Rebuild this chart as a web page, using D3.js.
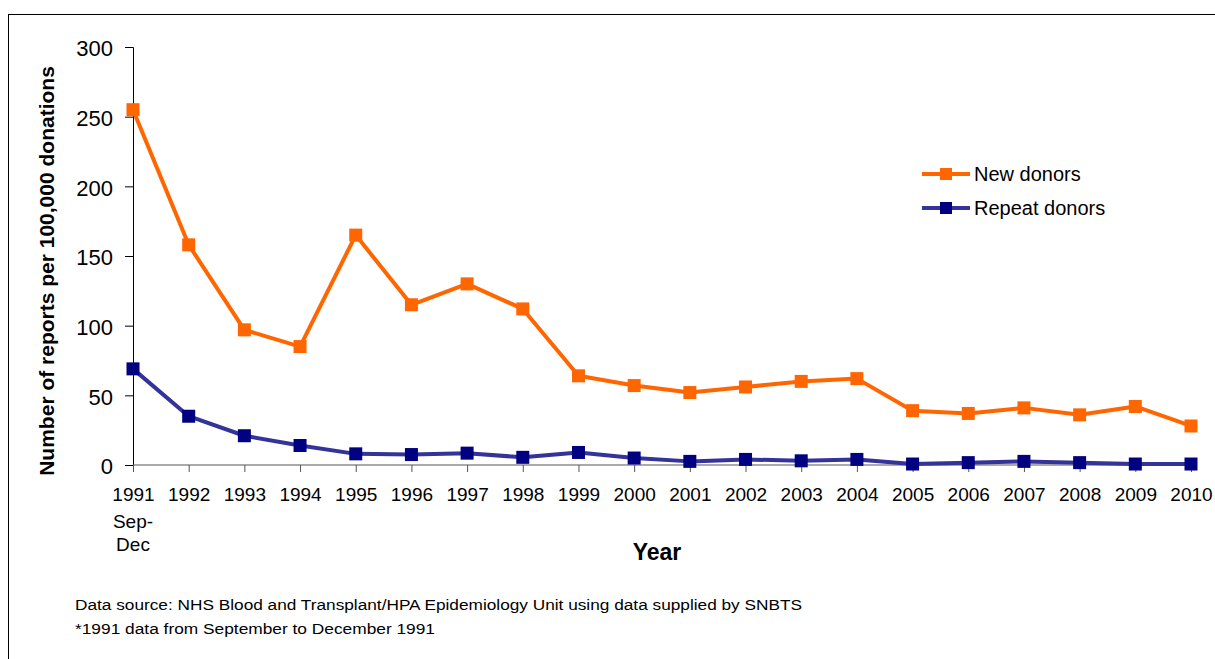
<!DOCTYPE html>
<html><head><meta charset="utf-8">
<script src="https://cdnjs.cloudflare.com/ajax/libs/d3/7.8.5/d3.min.js"></script>
<style>body{margin:0;background:#fff}svg{display:block}text{font-family:"Liberation Sans",Arial,sans-serif}</style>
</head><body>
<script>
const years = ["1991","1992","1993","1994","1995","1996","1997","1998","1999","2000","2001","2002","2003","2004","2005","2006","2007","2008","2009","2010"];
const newDonors = [255,158,97,85,165,115,130,112,64,57,52,56,60,62,39,37,41,36,42,28];
const repeatDonors = [69,35,21,14,8,7.5,8.5,5.5,9,5,2.6,4,3,4,0.7,1.7,2.6,1.7,0.7,0.7];
const yTicks = [0,50,100,150,200,250,300];
const seriesNames = ["New donors","Repeat donors"];

const W=1215,H=659;
const svg=d3.select("body").append("svg").attr("width",W).attr("height",H);
svg.append("rect").attr("x",8.5).attr("y",14.5).attr("width",1300).attr("height",800)
  .attr("fill","none").attr("stroke","#000").attr("stroke-width",1);

const x=d3.scalePoint().domain(years).range([133,1191]);
const y=d3.scaleLinear().domain([0,300]).range([465,47]);

// y axis
const ya=svg.append("g").attr("transform","translate(133,0)")
  .call(d3.axisLeft(y).tickValues(yTicks).tickSize(8).tickPadding(12));
ya.select(".domain").attr("stroke","#000");
ya.selectAll(".tick line").attr("stroke","#000");
ya.selectAll("text").attr("font-size",22).attr("fill","#000").attr("dy","0.4em");

// x axis
const xa=svg.append("g").attr("transform","translate(0,465)")
  .call(d3.axisBottom(x).tickSize(7).tickPadding(16));
xa.select(".domain").attr("stroke","#555").attr("d","M133,0H1191");
xa.selectAll(".tick line").attr("stroke","#555");
xa.selectAll("text").attr("font-size",19).attr("fill","#000");
svg.append("text").attr("x",x("1991")).attr("y",528).attr("text-anchor","middle").attr("font-size",19).text("Sep-");
svg.append("text").attr("x",x("1991")).attr("y",551).attr("text-anchor","middle").attr("font-size",19).text("Dec");

svg.append("text").attr("x",657).attr("y",560).attr("text-anchor","middle")
  .attr("font-size",23).attr("font-weight","bold").text("Year");
svg.append("text").attr("transform","translate(54,271) rotate(-90)").attr("text-anchor","middle")
  .attr("font-size",21).attr("font-weight","bold").text("Number of reports per 100,000 donations");

const line=d3.line().x((d,i)=>x(years[i])).y(d=>y(d));
const series=[{v:repeatDonors,lc:"#333399",mc:"#000080"},{v:newDonors,lc:"#FF6600",mc:"#FF6600"}];
series.forEach(s=>{
  svg.append("path").attr("d",line(s.v)).attr("fill","none").attr("stroke",s.lc).attr("stroke-width",4).attr("stroke-linejoin","round");
  svg.selectAll(null).data(s.v).enter().append("rect")
    .attr("x",(d,i)=>x(years[i])-6.5).attr("y",d=>y(d)-6.5).attr("width",13).attr("height",13).attr("fill",s.mc);
});

// legend
const leg=[{n:seriesNames[0],lc:"#FF6600",mc:"#FF6600",y:174},{n:seriesNames[1],lc:"#333399",mc:"#000080",y:208}];
leg.forEach(l=>{
  svg.append("line").attr("x1",922).attr("x2",970).attr("y1",l.y).attr("y2",l.y).attr("stroke",l.lc).attr("stroke-width",4);
  svg.append("rect").attr("x",940).attr("y",l.y-6).attr("width",12).attr("height",12).attr("fill",l.mc);
  svg.append("text").attr("x",974).attr("y",l.y+7).attr("font-size",20).text(l.n);
});

svg.append("text").attr("x",75).attr("y",610).attr("font-size",14).attr("textLength",727).attr("lengthAdjust","spacingAndGlyphs")
  .text("Data source: NHS Blood and Transplant/HPA Epidemiology Unit using data supplied by SNBTS");
svg.append("text").attr("x",75).attr("y",634).attr("font-size",14).attr("textLength",360).attr("lengthAdjust","spacingAndGlyphs")
  .text("*1991 data from September to December 1991");
</script>
</body></html>
